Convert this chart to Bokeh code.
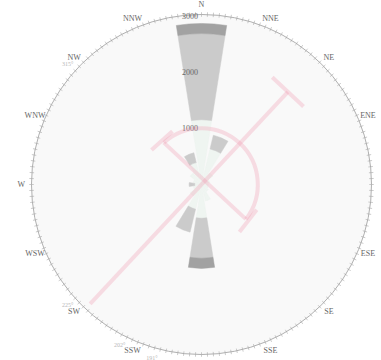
import numpy as np
from bokeh.plotting import figure
from bokeh.models import Range1d, ColumnDataSource
from bokeh.core.properties import value
from bokeh.embed import file_html
from bokeh.resources import INLINE

# wind directions (bearing order, clockwise from north)
directions = ["N", "NNE", "NE", "ENE", "E", "ESE", "SE", "SSE",
              "S", "SSW", "SW", "WSW", "W", "WNW", "NW", "NNW"]
# counts per speed class, stacked outward
calm = [1150, 650, 250, 150, 120, 120, 150, 300, 600, 450, 250, 150, 120, 150, 250, 400]
moderate = [1530, 250, 0, 0, 0, 0, 0, 0, 710, 420, 0, 0, 100, 0, 0, 180]
strong = [180, 0, 0, 0, 0, 0, 0, 0, 180, 0, 0, 0, 0, 0, 0, 0]
radial_ticks = [1000, 2000, 3000]
degree_ticks = ["315°", "225°", "202°", "191°"]
degree_bearings = [312, 228, 207, 196]

# mean direction summary
mean_bearing = 43.0
mean_len_fwd = 2250
mean_len_back = 2900
spread_radius = 1000
spread_from, spread_to = 318.0, 128.0

r_max = 3020
k = 0.0563  # pixels per count
cx, cy = 201, 184
W, H = 381, 360

p = figure(width=W, height=H, output_backend="svg", toolbar_location=None,
           x_range=Range1d(-cx / k, (W - cx) / k),
           y_range=Range1d(-(H - cy) / k, cy / k),
           min_border=0)
p.axis.visible = False
p.grid.visible = False
p.outline_line_color = None
p.background_fill_color = "white"

def math_angle(b):
    return np.deg2rad(90.0 - np.asarray(b, dtype=float))

bearings = np.arange(16) * 22.5
half = 9.0

# disk background
p.circle(x=[0], y=[0], radius=r_max, fill_color="#f9f9f9", line_color=None)

# stacked wedges
layers = [(calm, "#edf4f0", 0.9), (moderate, "#cbcbcb", 1.0), (strong, "#a2a2a2", 1.0)]
base = np.zeros(16)
for vals, col, a in layers:
    v = np.asarray(vals, dtype=float)
    top = base + v
    m = v > 0
    src = ColumnDataSource(dict(
        inner=base[m], outer=top[m],
        start=math_angle(bearings[m] + half), end=math_angle(bearings[m] - half)))
    p.annular_wedge(x=0, y=0, inner_radius="inner", outer_radius="outer",
                    start_angle="start", end_angle="end", source=src,
                    fill_color=col, fill_alpha=a, line_color=col, line_alpha=0.5)
    base = top

# outer ring with degree ticks
p.circle(x=[0], y=[0], radius=r_max, fill_color=None, line_color="#b0b0b0", line_width=1)
tb = np.arange(0, 360, 2.0)
ta = math_angle(tb)
r0, r1 = r_max - 40, r_max + 40
p.segment(x0=r0 * np.cos(ta), y0=r0 * np.sin(ta), x1=r1 * np.cos(ta), y1=r1 * np.sin(ta),
          line_color="#a8a8a8", line_width=0.6)

# direction labels (only those that land inside the page)
lab_r = 3200
la = math_angle(bearings)
lx, ly = lab_r * np.cos(la), lab_r * np.sin(la)
px_x, px_y = cx + lx * k, cy - ly * k
keep = (px_x > 6) & (px_x < W - 8) & (px_y > 3) & (px_y < H - 3)
p.text(x=lx[keep], y=ly[keep], text=[d for d, kk in zip(directions, keep) if kk],
       text_font=value("Liberation Serif"), text_font_size="8px",
       text_color="#666666", text_align="center", text_baseline="middle")

# faint degree labels just outside the ring
da = math_angle(degree_bearings)
p.text(x=3200 * np.cos(da), y=3200 * np.sin(da), text=degree_ticks,
       text_font=value("Liberation Serif"), text_font_size="6px",
       text_color="#b8b8b8", text_align="center", text_baseline="middle")

# radial labels
p.text(x=[-60] * len(radial_ticks), y=radial_ticks, text=[str(t) for t in radial_ticks],
       text_font=value("Liberation Serif"), text_font_size="8px",
       text_color="#666666", text_align="right", text_baseline="middle")

# mean direction line with end cap
pink = "#f290a8"
lw, la_ = 4, 0.28
ma = math_angle(mean_bearing)
xf, yf = mean_len_fwd * np.cos(ma), mean_len_fwd * np.sin(ma)
xb, yb = -mean_len_back * np.cos(ma), -mean_len_back * np.sin(ma)
p.line(x=[xb, xf], y=[yb, yf], line_color=pink, line_width=lw, line_alpha=la_)
pa = ma + np.pi / 2
cap = 380
p.line(x=[xf - cap * np.cos(pa), xf + cap * np.cos(pa)],
       y=[yf - cap * np.sin(pa), yf + cap * np.sin(pa)],
       line_color=pink, line_width=lw, line_alpha=la_)

# spread arc and cross line
p.arc(x=0, y=0, radius=spread_radius, start_angle=math_angle(spread_to),
      end_angle=math_angle(spread_from), line_color=pink, line_width=lw, line_alpha=la_)
sa1, sa2 = math_angle(spread_from), math_angle(spread_to)
p.line(x=[spread_radius * np.cos(sa1), spread_radius * np.cos(sa2)],
       y=[spread_radius * np.sin(sa1), spread_radius * np.sin(sa2)],
       line_color=pink, line_width=lw, line_alpha=la_)
for sa in (sa1, sa2):
    ex, ey = 1.05 * spread_radius * np.cos(sa), 1.05 * spread_radius * np.sin(sa)
    c = 250
    p.line(x=[ex - c * np.cos(sa + np.pi / 2), ex + c * np.cos(sa + np.pi / 2)],
           y=[ey - c * np.sin(sa + np.pi / 2), ey + c * np.sin(sa + np.pi / 2)],
           line_color=pink, line_width=lw, line_alpha=la_)

open("out.html", "w").write(file_html(p, INLINE))
